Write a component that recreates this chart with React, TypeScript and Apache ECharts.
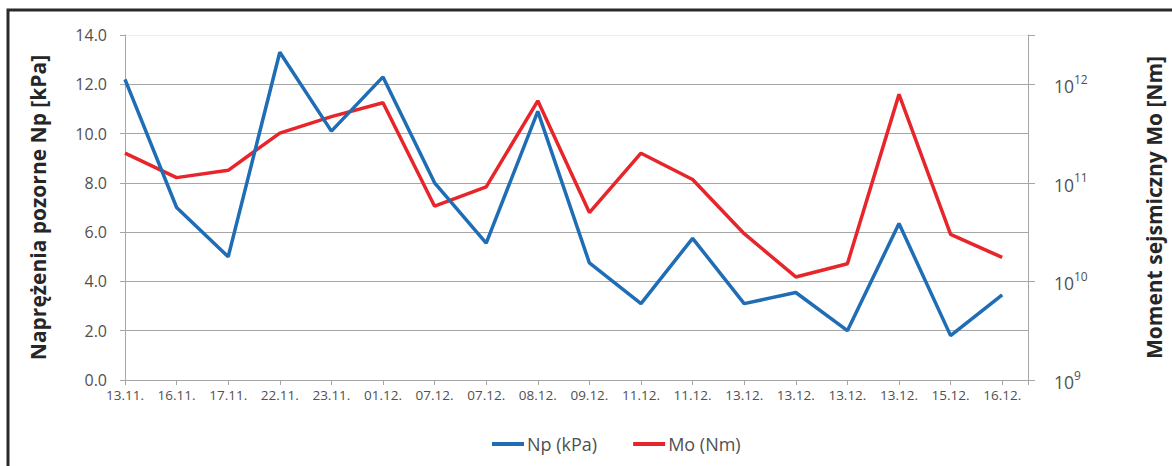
import React, { useEffect, useRef } from "react";
import * as echarts from "echarts";

const categories = [
  "13.11.", "16.11.", "17.11.", "22.11.", "23.11.", "01.12.", "07.12.", "07.12.", "08.12.",
  "09.12.", "11.12.", "11.12.", "13.12.", "13.12.", "13.12.", "13.12.", "15.12.", "16.12.",
];
const npValues = [12.2, 7.0, 5.0, 13.3, 10.1, 12.3, 8.0, 5.55, 10.9, 4.75, 3.1, 5.75, 3.1, 3.55, 2.0, 6.35, 1.8, 3.45];
const moValues = [
  2.0e11, 1.13e11, 1.34e11, 3.2e11, 4.7e11, 6.5e11, 5.8e10, 9.1e10, 6.8e11,
  5.0e10, 2.0e11, 1.08e11, 3.05e10, 1.11e10, 1.51e10, 7.9e11, 3.0e10, 1.75e10,
];
const leftTicks = [0, 2, 4, 6, 8, 10, 12, 14];
const seriesNames = ["Np (kPa)", "Mo (Nm)"];
const leftTitle = "Naprężenia pozorne Np [kPa]";
const rightTitle = "Moment sejsmiczny Mo [Nm]";

const FONT = "Open Sans";
const GRID_COLOR = "#a6a6a6";
const LABEL_COLOR = "#505050";
const BLUE = "#1f6db4";
const RED = "#e6262b";

export default function App() {
  const ref = useRef<HTMLDivElement>(null);
  useEffect(() => {
    if (!ref.current) return;
    const chart = echarts.init(ref.current, null, { renderer: "svg" });
    const splitColors = leftTicks.map((_, i) => (i === leftTicks.length - 1 ? "#ececec" : GRID_COLOR));
    chart.setOption({
      animation: false,
      backgroundColor: "#ffffff",
      textStyle: { fontFamily: FONT },
      graphic: [
        {
          type: "rect",
          shape: { x: 8, y: 10, width: 1250, height: 520 },
          style: { fill: "none", stroke: "#2a2a2a", lineWidth: 3 },
          silent: true,
        },
      ],
      grid: { left: 125, right: 137, top: 35, bottom: 86 },
      legend: {
        left: 487,
        top: 430,
        icon: "rect",
        itemWidth: 32,
        itemHeight: 4,
        itemGap: 36,
        data: seriesNames,
        textStyle: { fontSize: 18, color: LABEL_COLOR, fontFamily: FONT, padding: [0, 0, 0, -2] },
      },
      xAxis: {
        type: "value",
        min: 0,
        max: 17.5,
        interval: 1,
        axisLine: { show: true, lineStyle: { color: GRID_COLOR, width: 1 } },
        axisTick: { show: true, length: 5, lineStyle: { color: GRID_COLOR } },
        splitLine: { show: false },
        axisLabel: {
          margin: 8,
          fontSize: 13.5,
          color: LABEL_COLOR,
          fontFamily: FONT,
          formatter: (v: number) =>
            Number.isInteger(v) && categories[v] !== undefined ? categories[v] : "",
        },
      },
      yAxis: [
        {
          type: "value",
          min: leftTicks[0],
          max: leftTicks[leftTicks.length - 1],
          interval: 2,
          position: "left",
          name: leftTitle,
          nameLocation: "middle",
          nameRotate: 90,
          nameGap: 77,
          nameTextStyle: { fontSize: 21, fontWeight: "bold", color: "#262626", fontFamily: FONT },
          axisLine: { show: true, lineStyle: { color: GRID_COLOR, width: 1 } },
          axisTick: { show: true, length: 5, lineStyle: { color: GRID_COLOR } },
          splitLine: { show: true, lineStyle: { color: splitColors, width: 1 } },
          axisLabel: {
            margin: 18,
            fontSize: 16,
            color: LABEL_COLOR,
            fontFamily: FONT,
            formatter: (v: number) => v.toFixed(1),
          },
        },
        {
          type: "log",
          logBase: 10,
          min: 1e9,
          max: Math.pow(10, 12.5),
          position: "right",
          name: rightTitle,
          nameLocation: "middle",
          nameRotate: 90,
          nameGap: 115,
          nameTextStyle: { fontSize: 21, fontWeight: "bold", color: "#262626", fontFamily: FONT },
          axisLine: { show: true, lineStyle: { color: GRID_COLOR, width: 1 } },
          axisTick: { show: true, length: 7, lineStyle: { color: GRID_COLOR } },
          splitLine: { show: false },
          axisLabel: {
            margin: 26,
            color: LABEL_COLOR,
            fontFamily: FONT,
            formatter: (v: number) => {
              const e = Math.log10(v);
              const r = Math.round(e);
              if (Math.abs(e - r) > 1e-6) return "";
              return `{b|10}{s|${r}}`;
            },
            rich: {
              b: { fontSize: 17.5, color: LABEL_COLOR, fontFamily: FONT, lineHeight: 22, verticalAlign: "bottom" },
              s: { fontSize: 12, color: LABEL_COLOR, fontFamily: FONT, lineHeight: 22, verticalAlign: "top" },
            },
          },
        },
      ],
      series: [
        {
          name: seriesNames[0],
          type: "line",
          yAxisIndex: 0,
          symbol: "none",
          lineStyle: { color: BLUE, width: 3.5 },
          itemStyle: { color: BLUE },
          data: npValues.map((v, i) => [i, v]),
          z: 3,
        },
        {
          name: seriesNames[1],
          type: "line",
          yAxisIndex: 1,
          symbol: "none",
          lineStyle: { color: RED, width: 3.5 },
          itemStyle: { color: RED },
          data: moValues.map((v, i) => [i, v]),
          z: 2,
        },
      ],
    });
    return () => chart.dispose();
  }, []);
  return (
    <div
      ref={ref}
      style={{ position: "fixed", left: 0, top: 0, width: 1172, height: 466, background: "#fff" }}
    />
  );
}
